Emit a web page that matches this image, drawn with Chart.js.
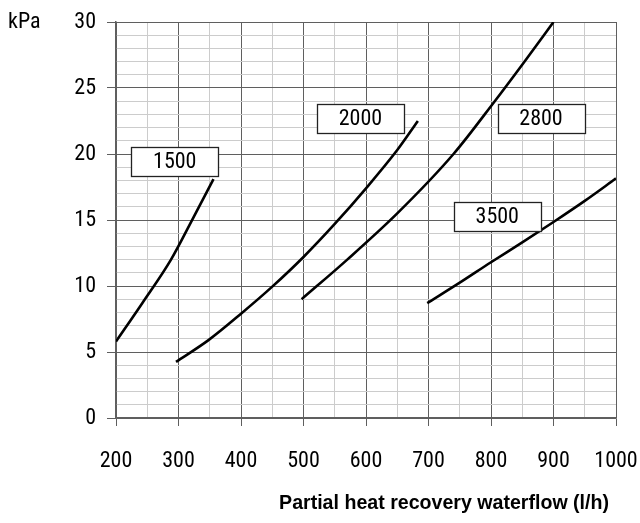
<!DOCTYPE html>
<html>
<head>
<meta charset="utf-8">
<script src="https://cdn.jsdelivr.net/npm/chart.js@4.4.0/dist/chart.umd.min.js"></script>
<style>
  html, body { margin: 0; padding: 0; background: #fff; }
  #wrap { width: 640px; height: 523px; }
</style>
</head>
<body>
<div id="wrap"><canvas id="chart" width="640" height="523"></canvas></div>
<script>
// Pressure drop curves, waterflow (l/h) vs kPa
const curve1500 = [[200, 5.8], [242, 8.7], [288, 12.0], [324, 15.2], [356, 18.1]];
const curve2000 = [[296, 4.25], [348, 5.9], [400, 7.9], [450, 9.95], [500, 12.2], [550, 14.7], [600, 17.4], [650, 20.3], [683, 22.5]];
const curve2800 = [[497, 9.0], [570, 12.0], [650, 15.5], [740, 20.0], [806, 24.0], [852, 26.9], [900, 30.0]];
const curve3500 = [[698, 8.7], [750, 10.25], [800, 11.8], [850, 13.3], [900, 14.85], [950, 16.45], [1000, 18.15]];

const seriesNames = ['1500', '2000', '2800', '3500'];
// where each name tag sits (data units)
const tagX = [294, 591, 880, 810];
const tagY = [19.45, 22.7, 22.7, 15.3];

const xMin = 200, xMax = 1000;
const yMin = 0, yMax = 30;
const xTitle = 'Partial heat recovery waterflow (l/h)';
const yUnit = 'kPa';

const NARROW = '"Roboto Condensed", "DejaVu Sans Condensed", sans-serif';
const MAJOR = '#5f5f5f';
const MINOR = '#cccccc';

function toPoints(arr) {
    return arr.map(p => ({ x: p[0], y: p[1] }));
}

const curves = [curve1500, curve2000, curve2800, curve3500];

const tagPlugin = {
    id: 'tags',
    afterDatasetsDraw(chart) {
        const ctx = chart.ctx;
        const xs = chart.scales.x, ys = chart.scales.y;
        ctx.save();
        ctx.font = '22px ' + NARROW;
        ctx.textAlign = 'center';
        ctx.textBaseline = 'middle';
        seriesNames.forEach((name, i) => {
            const cx = xs.getPixelForValue(tagX[i]);
            const cy = ys.getPixelForValue(tagY[i]);
            const w = 87, h = 29;
            ctx.fillStyle = '#fff';
            ctx.fillRect(Math.round(cx - w / 2) + 0.5, Math.round(cy - h / 2) + 0.5, w, h);
            ctx.strokeStyle = '#222';
            ctx.lineWidth = 1.3;
            ctx.strokeRect(Math.round(cx - w / 2) + 0.5, Math.round(cy - h / 2) + 0.5, w, h);
            ctx.fillStyle = '#000';
            ctx.fillText(name, cx, cy + 1);
        });
        ctx.restore();
    },
    afterDraw(chart) {
        const ctx = chart.ctx;
        ctx.save();
        ctx.fillStyle = '#000';
        ctx.textBaseline = 'middle';
        ctx.font = '22px ' + NARROW;
        ctx.textAlign = 'left';
        ctx.fillText(yUnit, 8, 22);
        ctx.font = 'bold 19.6px "Liberation Sans", Arial, sans-serif';
        ctx.textAlign = 'right';
        ctx.fillText(xTitle, 609, 504);
        ctx.restore();
    }
};

const ctx = document.getElementById('chart').getContext('2d');
new Chart(ctx, {
    type: 'line',
    data: {
        datasets: curves.map((c, i) => ({
            label: seriesNames[i],
            data: toPoints(c),
            borderColor: '#000',
            borderWidth: 2.6,
            pointRadius: 0,
            fill: false,
            cubicInterpolationMode: 'monotone'
        }))
    },
    options: {
        responsive: false,
        animation: false,
        events: [],
        layout: { padding: { left: 0, top: 22, right: 24, bottom: 0 } },
        plugins: {
            legend: { display: false },
            tooltip: { enabled: false }
        },
        scales: {
            x: {
                type: 'linear',
                min: xMin,
                max: xMax,
                border: { color: MAJOR, width: 1.5 },
                grid: {
                    color: c => (c.tick && c.tick.value % 100 === 0) ? MAJOR : MINOR,
                    tickColor: c => (c.tick && c.tick.value % 100 === 0) ? MAJOR : 'rgba(0,0,0,0)',
                    tickLength: 8,
                    lineWidth: 1
                },
                ticks: {
                    stepSize: 50,
                    autoSkip: false,
                    maxRotation: 0,
                    padding: 22,
                    color: '#000',
                    font: { family: NARROW, size: 22 },
                    callback: v => v % 100 === 0 ? String(v) : ''
                },
                afterFit(scale) {
                    scale.height = 105;
                    scale.paddingLeft = 0;
                    scale.paddingRight = 0;
                }
            },
            y: {
                type: 'linear',
                min: yMin,
                max: yMax,
                border: { color: MAJOR, width: 1.5 },
                grid: {
                    color: c => (c.tick && c.tick.value % 5 === 0) ? MAJOR : MINOR,
                    tickColor: c => (c.tick && c.tick.value % 5 === 0) ? MAJOR : 'rgba(0,0,0,0)',
                    tickLength: 9,
                    lineWidth: 1
                },
                ticks: {
                    stepSize: 1,
                    autoSkip: false,
                    padding: 11,
                    color: '#000',
                    font: { family: NARROW, size: 22 },
                    callback: v => v % 5 === 0 ? String(v) : ''
                },
                afterFit(scale) {
                    scale.width = 116;
                    scale.paddingTop = 0;
                    scale.paddingBottom = 0;
                }
            }
        }
    },
    plugins: [tagPlugin]
});
</script>
</body>
</html>
